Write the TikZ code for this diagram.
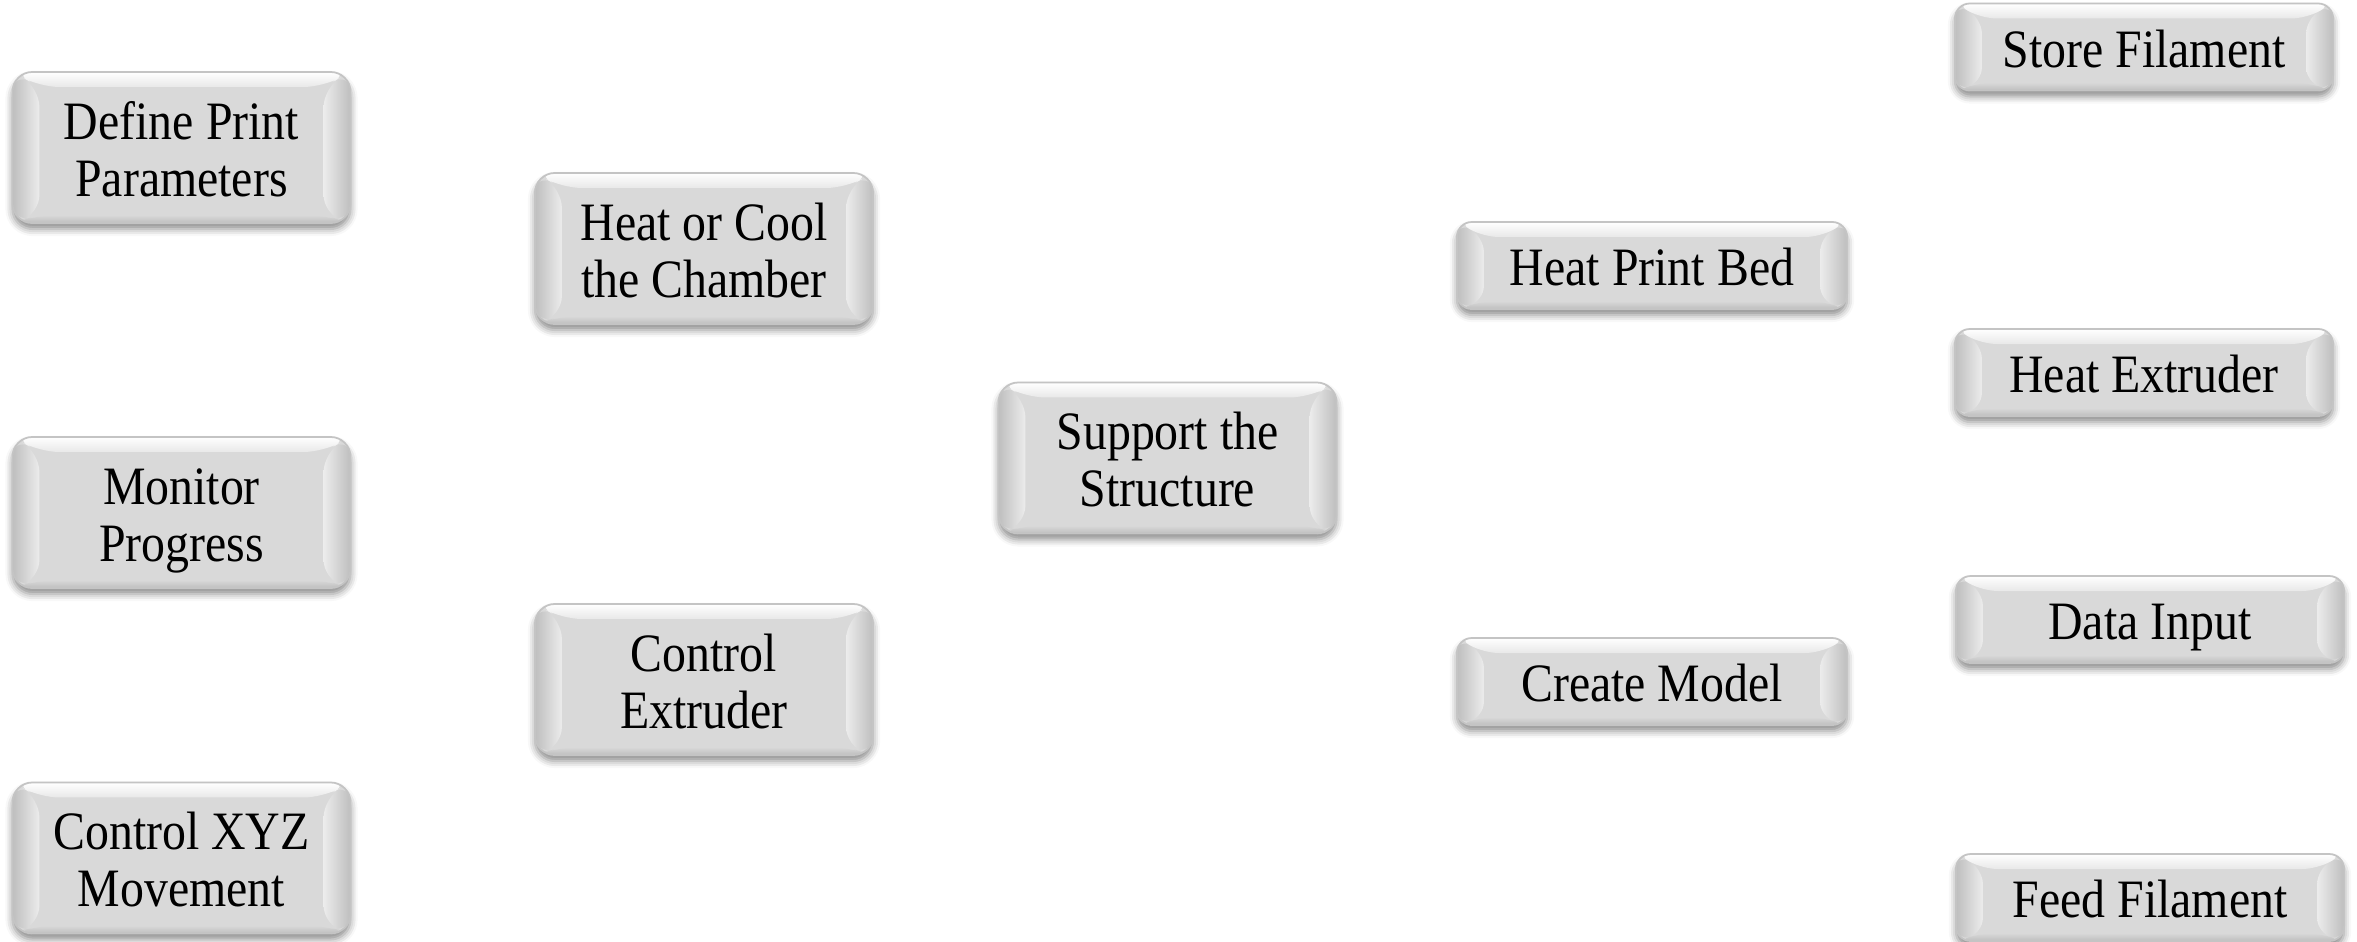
\documentclass[tikz,border=0pt]{standalone}
\usepackage{fontspec}
\usepackage{graphicx}
\setmainfont{Liberation Serif}
\usetikzlibrary{shadows.blur}

\definecolor{face}{RGB}{217,217,217}
\definecolor{edgeline}{RGB}{196,196,196}
\definecolor{bevlight}{RGB}{236,236,236}
\definecolor{bevdark}{RGB}{190,190,190}

% centred, slightly tall label text, set a little below the box centre
\newcommand{\lbl}[1]{\raisebox{-0.09cm}[\height][\depth]{\scalebox{1}[1.13]{\begin{tabular}{@{}c@{}}#1\end{tabular}}}}

\tikzset{
  bevelbox/.style={
    draw=edgeline, line width=0.5pt, fill=face, inner sep=0pt,
    font=\fontsize{13.6}{14.3}\selectfont,
    blur shadow={shadow xshift=0pt, shadow yshift=-0.06cm,
                 shadow blur radius=0.07cm, shadow opacity=45},
    path picture={
      \coordinate (pnw) at (path picture bounding box.north west);
      \coordinate (pne) at (path picture bounding box.north east);
      \coordinate (psw) at (path picture bounding box.south west);
      \coordinate (pse) at (path picture bounding box.south east);
      % left bevel
      \fill[left color=bevdark, right color=bevlight]
        (pnw) -- ([xshift=0.27cm,yshift=-0.15cm]pnw)
        -- ([xshift=0.27cm,yshift=0.08cm]psw) -- (psw) -- cycle;
      % right bevel
      \fill[left color=bevlight, right color=bevdark]
        (pne) -- ([xshift=-0.27cm,yshift=-0.15cm]pne)
        -- ([xshift=-0.27cm,yshift=0.08cm]pse) -- (pse) -- cycle;
      % top bevel
      \fill[top color=white, bottom color=face!60!white]
        (pnw) -- (pne) -- ([xshift=-0.27cm,yshift=-0.15cm]pne)
        -- ([xshift=0.27cm,yshift=-0.15cm]pnw) -- cycle;
      % bottom bevel
      \fill[top color=face, bottom color=bevdark]
        (psw) -- (pse) -- ([xshift=-0.27cm,yshift=0.08cm]pse)
        -- ([xshift=0.27cm,yshift=0.08cm]psw) -- cycle;
    }
  },
  bigbox/.style={bevelbox, minimum width=3.38cm, minimum height=1.51cm,
                 rounded corners=0.2cm},
  smallbox/.style={bevelbox, minimum width=#1, minimum height=0.87cm,
                   rounded corners=0.15cm},
}

\begin{document}
\begin{tikzpicture}[x=0.01cm, y=-0.01cm]
  \useasboundingbox (0,0) rectangle (2357,941);

  % left column
  \node[bigbox] (define)  at (181.5,147.5) {\lbl{Define Print\\Parameters}};
  \node[bigbox] (monitor) at (181.5,512.5) {\lbl{Monitor\\Progress}};
  \node[bigbox] (xyz)     at (181.5,858)   {\lbl{Control XYZ\\Movement}};

  % second column
  \node[bigbox] (chamber) at (704,248.5)   {\lbl{Heat or Cool\\the Chamber}};
  \node[bigbox] (ctrlext) at (704,679.5)   {\lbl{Control\\Extruder}};

  % centre
  \node[bigbox] (support) at (1167.5,458)  {\lbl{Support the\\Structure}};

  % fourth column
  \node[smallbox=3.9cm] (bed)   at (1652,265.5) {\lbl{Heat Print Bed}};
  \node[smallbox=3.9cm] (model) at (1652,681.5) {\lbl{Create Model}};

  % right column
  \node[smallbox=3.78cm] (store)   at (2144,47)    {\lbl{Store Filament}};
  \node[smallbox=3.78cm] (heatext) at (2144,372.5) {\lbl{Heat Extruder}};
  \node[smallbox=3.88cm] (data)    at (2150,619.5) {\lbl{Data Input}};
  \node[smallbox=3.88cm] (feed)    at (2150,897.5) {\lbl{Feed Filament}};
\end{tikzpicture}
\end{document}
